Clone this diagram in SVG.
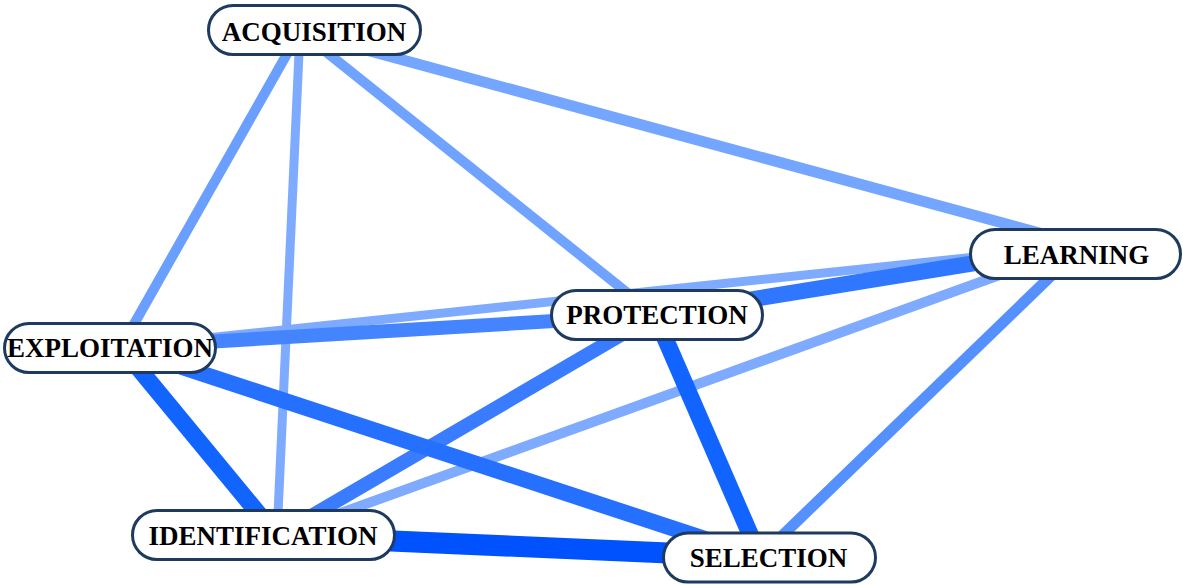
<svg xmlns="http://www.w3.org/2000/svg" width="1183" height="585" viewBox="0 0 1183 585">
<style>
.e{fill:none;stroke-linecap:butt}
.n rect{fill:#ffffff;stroke:#1e3a5f;stroke-width:3}
.n text{font-family:"Liberation Serif","Times New Roman",serif;font-weight:bold;font-size:27px;fill:#000;text-anchor:middle}
</style>
<rect width="1183" height="585" fill="#ffffff"/>
<g id="edges">
<line class="e" x1="300" y1="31" x2="277" y2="536" stroke="#7eaaff" stroke-width="9"/>
<line class="e" x1="121" y1="347" x2="1080" y2="246" stroke="#7eaaff" stroke-width="9"/>
<line class="e" x1="277" y1="536" x2="1080" y2="246" stroke="#7eaaff" stroke-width="10"/>
<line class="e" x1="300" y1="32" x2="1080" y2="244" stroke="#74a5ff" stroke-width="11"/>
<line class="e" x1="300" y1="31" x2="655" y2="315" stroke="#70a3ff" stroke-width="10"/>
<line class="e" x1="300" y1="31" x2="121" y2="347" stroke="#6a9fff" stroke-width="10"/>
<line class="e" x1="1082" y1="246" x2="760" y2="557" stroke="#5590ff" stroke-width="11"/>
<line class="e" x1="121" y1="347" x2="655" y2="315" stroke="#4485ff" stroke-width="14"/>
<line class="e" x1="655" y1="315" x2="277" y2="536" stroke="#3a7cff" stroke-width="14"/>
<line class="e" x1="655" y1="315" x2="1080" y2="246" stroke="#2f77ff" stroke-width="16"/>
<line class="e" x1="121" y1="347" x2="760" y2="557" stroke="#2570ff" stroke-width="16"/>
<line class="e" x1="121" y1="347" x2="277" y2="536" stroke="#1264ff" stroke-width="17"/>
<line class="e" x1="655" y1="315" x2="760" y2="557" stroke="#1164ff" stroke-width="17"/>
<line class="e" x1="277" y1="536" x2="760" y2="557" stroke="#0052ff" stroke-width="21"/>
</g>
<g id="acquisition" class="n"><rect x="208.5" y="5.5" width="212" height="49" rx="24.5"/><text x="314" y="40.5">ACQUISITION</text></g>
<g id="learning" class="n"><rect x="970.5" y="229.5" width="210" height="49" rx="24.5"/><text x="1076.5" y="264">LEARNING</text></g>
<g id="protection" class="n"><rect x="551.5" y="290.5" width="211" height="49" rx="24.5"/><text x="657" y="324">PROTECTION</text></g>
<g id="exploitation" class="n"><rect x="4.5" y="323.5" width="211" height="49" rx="24.5"/><text x="110" y="357">EXPLOITATION</text></g>
<g id="identification" class="n"><rect x="132.5" y="510.5" width="262" height="49" rx="24.5"/><text x="263" y="545">IDENTIFICATION</text></g>
<g id="selection" class="n"><rect x="663.5" y="533" width="212" height="49" rx="24.5"/><text x="768.5" y="566.5">SELECTION</text></g>
</svg>
